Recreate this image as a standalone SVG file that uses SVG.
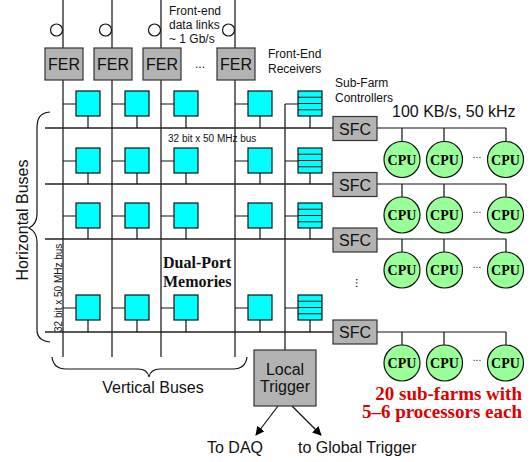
<svg xmlns="http://www.w3.org/2000/svg" width="531" height="462" viewBox="0 0 531 462">
<style>
.ln{stroke:#111;stroke-width:1.2;fill:none}
.bus{stroke:#222;stroke-width:1.4;fill:none}
.gray{fill:#b3b3b3;stroke:#333;stroke-width:1.2}
.mem{fill:#00ffff;stroke:#111;stroke-width:1.2}
.cpu{fill:#99ff99;stroke:#111;stroke-width:1.2}
.sans{font-family:"Liberation Sans",Arial,sans-serif;fill:#111}
.s12{font-size:12px}
.s16{font-size:16px}
.s10{font-size:10px}
.serifb{font-family:"Liberation Serif","Times New Roman",serif;font-weight:bold}
.mid{text-anchor:middle}
</style>
<defs>
<marker id="arr" viewBox="0 0 10 10" refX="9" refY="5" markerWidth="9" markerHeight="9" markerUnits="userSpaceOnUse" orient="auto">
<path d="M0,0 L10,5 L0,10 z" fill="#000"/>
</marker>
<g id="memBox"><rect class="mem" x="0" y="0" width="24" height="25"/></g>
<g id="sfcBox"><rect class="mem" x="0" y="0" width="24" height="25"/><path class="ln" d="M0,6.25H24M0,12.5H24M0,18.75H24"/></g>
</defs>
<rect width="531" height="462" fill="#fff"/>

<g id="connectors">
<!-- vertical buses -->
<path class="ln" d="M63,0V357M112,0V357M161,0V357M235,0V357"/>
<path class="ln" d="M285,104V350"/>
<!-- horizontal buses -->
<path class="bus" d="M45,128H333M45,184H333M45,239H333M45,332H333"/>
<!-- memory links: rows -->
<g class="ln">
<path d="M63,104H76M112,104H125M161,104H174M235,104H248M285,104H298"/>
<path d="M63,161H76M112,161H125M161,161H174M235,161H248M285,161H298"/>
<path d="M63,216H76M112,216H125M161,216H174M235,216H248M285,216H298"/>
<path d="M63,308H76M112,308H125M161,308H174M235,308H248M285,308H298"/>
<path d="M88,116V128M137,116V128M186,116V128M260,116V128M310,116V128"/>
<path d="M88,173V184M137,173V184M186,173V184M260,173V184M310,173V184"/>
<path d="M88,228V239M137,228V239M186,228V239M260,228V239M310,228V239"/>
<path d="M88,320V332M137,320V332M186,320V332M260,320V332M310,320V332"/>
</g>
<!-- SFC to CPUs -->
<g class="ln">
<path d="M377,128H506M402,128V141M444,128V141M506,128V141"/>
<path d="M377,184H506M402,184V197M444,184V197M506,184V197"/>
<path d="M377,239H506M402,239V252M444,239V252M506,239V252"/>
<path d="M377,332H506M402,332V345M444,332V345M506,332V345"/>
</g>
<!-- trigger outputs -->
<path class="ln" d="M278,406L256,435" marker-end="url(#arr)"/>
<path class="ln" d="M292,406L321,435" marker-end="url(#arr)"/>
<!-- braces -->
<path class="ln" d="M50,112C40,113 37,118 37,128V214C37,222 33,226 29,228C33,230 37,234 37,242V330C37,337 41,341 50,342"/>
<path class="ln" d="M52,357C53,365 57,369 66,369H138C145,369 148,372 149,377C150,372 153,369 160,369H233C242,369 246,365 247,357"/>
</g>

<g id="links">
<circle cx="56.5" cy="30" r="6" fill="#fff" stroke="#111" stroke-width="1.2"/>
<circle cx="105.5" cy="30" r="6" fill="#fff" stroke="#111" stroke-width="1.2"/>
<circle cx="154.5" cy="30" r="6" fill="#fff" stroke="#111" stroke-width="1.2"/>
<circle cx="228.5" cy="30" r="6" fill="#fff" stroke="#111" stroke-width="1.2"/>
</g>

<g id="fer1"><rect class="gray" x="45" y="48" width="38" height="32"/><text class="sans s16 mid" x="64" y="70">FER</text></g>
<g id="fer2"><rect class="gray" x="94" y="48" width="38" height="32"/><text class="sans s16 mid" x="113" y="70">FER</text></g>
<g id="fer3"><rect class="gray" x="143" y="48" width="38" height="32"/><text class="sans s16 mid" x="162" y="70">FER</text></g>
<g id="fer4"><rect class="gray" x="217" y="48" width="38" height="32"/><text class="sans s16 mid" x="236" y="70">FER</text></g>
<text class="sans s12 mid" x="200" y="68">...</text>

<g id="memories">
<use href="#memBox" x="76" y="91"/><use href="#memBox" x="125" y="91"/><use href="#memBox" x="174" y="91"/><use href="#memBox" x="248" y="91"/>
<use href="#memBox" x="76" y="148"/><use href="#memBox" x="125" y="148"/><use href="#memBox" x="174" y="148"/><use href="#memBox" x="248" y="148"/>
<use href="#memBox" x="76" y="203"/><use href="#memBox" x="125" y="203"/><use href="#memBox" x="174" y="203"/><use href="#memBox" x="248" y="203"/>
<use href="#memBox" x="76" y="295"/><use href="#memBox" x="125" y="295"/><use href="#memBox" x="174" y="295"/><use href="#memBox" x="248" y="295"/>
</g>
<g id="sfc-buffers">
<use href="#sfcBox" x="298" y="91"/><use href="#sfcBox" x="298" y="148"/><use href="#sfcBox" x="298" y="203"/><use href="#sfcBox" x="298" y="295"/>
</g>

<g id="sfc1"><rect class="gray" x="333" y="116.5" width="44" height="24"/><text class="sans s16 mid" x="355" y="134.5">SFC</text></g>
<g id="sfc2"><rect class="gray" x="333" y="172.5" width="44" height="24"/><text class="sans s16 mid" x="355" y="190.5">SFC</text></g>
<g id="sfc3"><rect class="gray" x="333" y="228" width="44" height="24"/><text class="sans s16 mid" x="355" y="246">SFC</text></g>
<g id="sfc4"><rect class="gray" x="333" y="320" width="44" height="24"/><text class="sans s16 mid" x="355" y="338">SFC</text></g>

<g id="cpus" class="serifb" font-size="14" text-anchor="middle">
<circle class="cpu" cx="402" cy="159.5" r="18"/><circle class="cpu" cx="444.5" cy="159.5" r="18"/><circle class="cpu" cx="505.5" cy="159.5" r="18"/>
<circle class="cpu" cx="402" cy="215" r="18"/><circle class="cpu" cx="444.5" cy="215" r="18"/><circle class="cpu" cx="505.5" cy="215" r="18"/>
<circle class="cpu" cx="402" cy="270" r="18"/><circle class="cpu" cx="444.5" cy="270" r="18"/><circle class="cpu" cx="505.5" cy="270" r="18"/>
<circle class="cpu" cx="402" cy="363" r="18"/><circle class="cpu" cx="444.5" cy="363" r="18"/><circle class="cpu" cx="505.5" cy="363" r="18"/>
<text x="402" y="164.5">CPU</text><text x="444.5" y="164.5">CPU</text><text x="505.5" y="164.5">CPU</text>
<text x="402" y="220">CPU</text><text x="444.5" y="220">CPU</text><text x="505.5" y="220">CPU</text>
<text x="402" y="275">CPU</text><text x="444.5" y="275">CPU</text><text x="505.5" y="275">CPU</text>
<text x="402" y="368">CPU</text><text x="444.5" y="368">CPU</text><text x="505.5" y="368">CPU</text>
</g>
<g class="sans s10 mid">
<text x="477" y="158">...</text><text x="477" y="213">...</text><text x="477" y="268">...</text><text x="477" y="361">...</text>
</g>
<text class="sans s12 mid" transform="translate(356,283) rotate(90)" y="0">...</text>

<g id="local-trigger"><rect class="gray" x="254" y="350" width="62" height="56"/>
<text class="sans s16 mid" x="285" y="375">Local</text><text class="sans s16 mid" x="285" y="392">Trigger</text></g>

<g id="labels">
<text class="sans s12" x="169" y="15">Front-end</text>
<text class="sans s12" x="169" y="29">data links</text>
<text class="sans s12" x="169" y="43">~ 1 Gb/s</text>
<text class="sans s12" x="268" y="58">Front-End</text>
<text class="sans s12" x="268" y="73">Receivers</text>
<text class="sans s12" x="335" y="87">Sub-Farm</text>
<text class="sans s12" x="335" y="102">Controllers</text>
<text class="sans s16" x="392" y="117">100 KB/s, 50 kHz</text>
<text class="sans s10" x="168" y="142">32 bit x 50 MHz bus</text>
<text class="sans s10" transform="translate(62,332) rotate(-90)">32 bit x 50 MHz bus</text>
<text class="sans s16 mid" transform="translate(28,220) rotate(-90)">Horizontal Buses</text>
<text class="sans s16 mid" x="153" y="393">Vertical Buses</text>
<text class="serifb" font-size="16" x="163" y="268" fill="#111">Dual-Port</text>
<text class="serifb" font-size="16" x="163" y="287" fill="#111">Memories</text>
<text class="sans s16" x="207" y="453">To DAQ</text>
<text class="sans s16" x="298" y="453">to Global Trigger</text>
<text class="serifb" font-size="19" x="522" y="400" text-anchor="end" fill="#dd0000">20 sub-farms with</text>
<text class="serifb" font-size="19" x="522" y="418" text-anchor="end" fill="#dd0000">5–6 processors each</text>
</g>
</svg>
